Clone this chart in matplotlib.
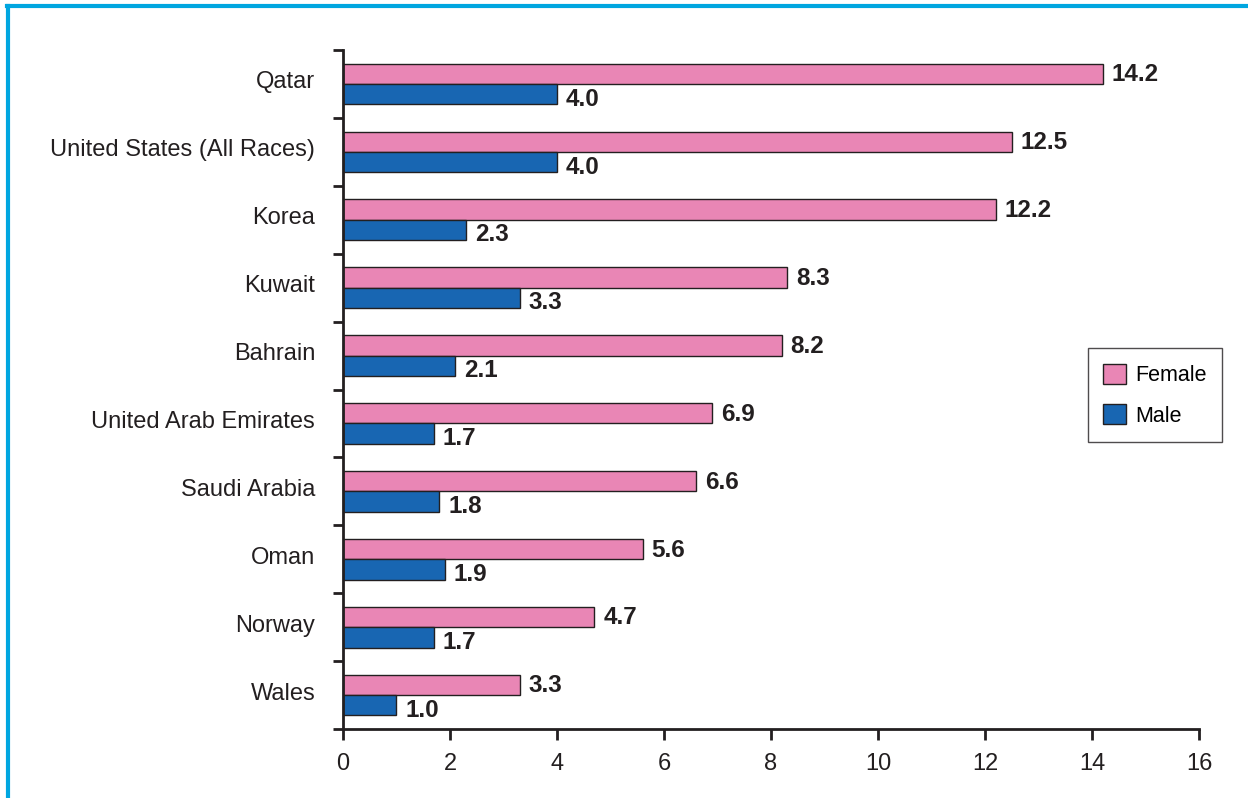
import numpy as np
import matplotlib
matplotlib.use('Agg')
import matplotlib.pyplot as plt
from matplotlib.lines import Line2D
from matplotlib.transforms import ScaledTranslation

plt.rcParams['font.family'] = ['Liberation Sans', 'DejaVu Sans']

countries = ['Qatar', 'United States (All Races)', 'Korea', 'Kuwait', 'Bahrain',
             'United Arab Emirates', 'Saudi Arabia', 'Oman', 'Norway', 'Wales']
female = [14.2, 12.5, 12.2, 8.3, 8.2, 6.9, 6.6, 5.6, 4.7, 3.3]
male = [4.0, 4.0, 2.3, 3.3, 2.1, 1.7, 1.8, 1.9, 1.7, 1.0]

pink = '#E986B5'
blue = '#1866B2'
edge = '#231F20'

fig = plt.figure(figsize=(12.48, 7.98), dpi=100)
ax = fig.add_axes([0.2748, 0.0865, 0.9607 - 0.2748, 0.9373 - 0.0865])

y = np.arange(len(countries))
h = 0.3
ax.barh(y - h / 2, female, height=h, color=pink, edgecolor=edge, linewidth=1, label='Female')
ax.barh(y + h / 2, male, height=h, color=blue, edgecolor=edge, linewidth=1, label='Male')

for i in range(len(countries)):
    ax.annotate(f'{female[i]:.1f}', (female[i], y[i] - h / 2), xytext=(9, -1),
                textcoords='offset pixels', va='center', ha='left',
                fontsize=17.5, fontweight='bold', color='#231F20')
    ax.annotate(f'{male[i]:.1f}', (male[i], y[i] + h / 2), xytext=(9, -5),
                textcoords='offset pixels', va='center', ha='left',
                fontsize=17.5, fontweight='bold', color='#231F20')

ax.set_ylim(len(countries) - 0.5, -0.5)
ax.set_xlim(0, 16)
ax.set_xticks(range(0, 17, 2))
ax.set_yticks(y)
ax.set_yticklabels(countries)
ax.set_yticks(np.arange(-0.5, len(countries), 1), minor=True)
ax.tick_params(axis='y', which='major', length=0, pad=20, labelsize=17, labelcolor='#231F20')
ax.tick_params(axis='y', which='minor', length=7, width=2, color=edge, direction='out')
ax.tick_params(axis='x', length=8, width=2, color=edge, direction='out', pad=9,
               labelsize=17, labelcolor='#231F20')
shift = ScaledTranslation(0, 4 / 100, fig.dpi_scale_trans)
for lab in ax.get_yticklabels():
    lab.set_transform(lab.get_transform() + shift)

for s in ['top', 'right']:
    ax.spines[s].set_visible(False)
for s in ['left', 'bottom']:
    ax.spines[s].set_linewidth(2)
    ax.spines[s].set_color(edge)

leg = ax.legend(loc='upper left', bbox_to_anchor=(0.870, 0.561), borderaxespad=0, fontsize=15.5,
                frameon=True, fancybox=False, edgecolor=edge, handlelength=1.05,
                handleheight=1.05, labelspacing=0.85, borderpad=0.72, handletextpad=0.45)
leg.get_frame().set_linewidth(1)

# cyan frame around the panel
fig.add_artist(Line2D([7 / 1248, 1], [1 - 6 / 798, 1 - 6 / 798], color='#00A6E0', linewidth=3,
                      transform=fig.transFigure))
fig.add_artist(Line2D([8 / 1248, 8 / 1248], [0, 1 - 6 / 798], color='#00A6E0', linewidth=3,
                      transform=fig.transFigure))

fig.savefig('out.png', dpi=100)
